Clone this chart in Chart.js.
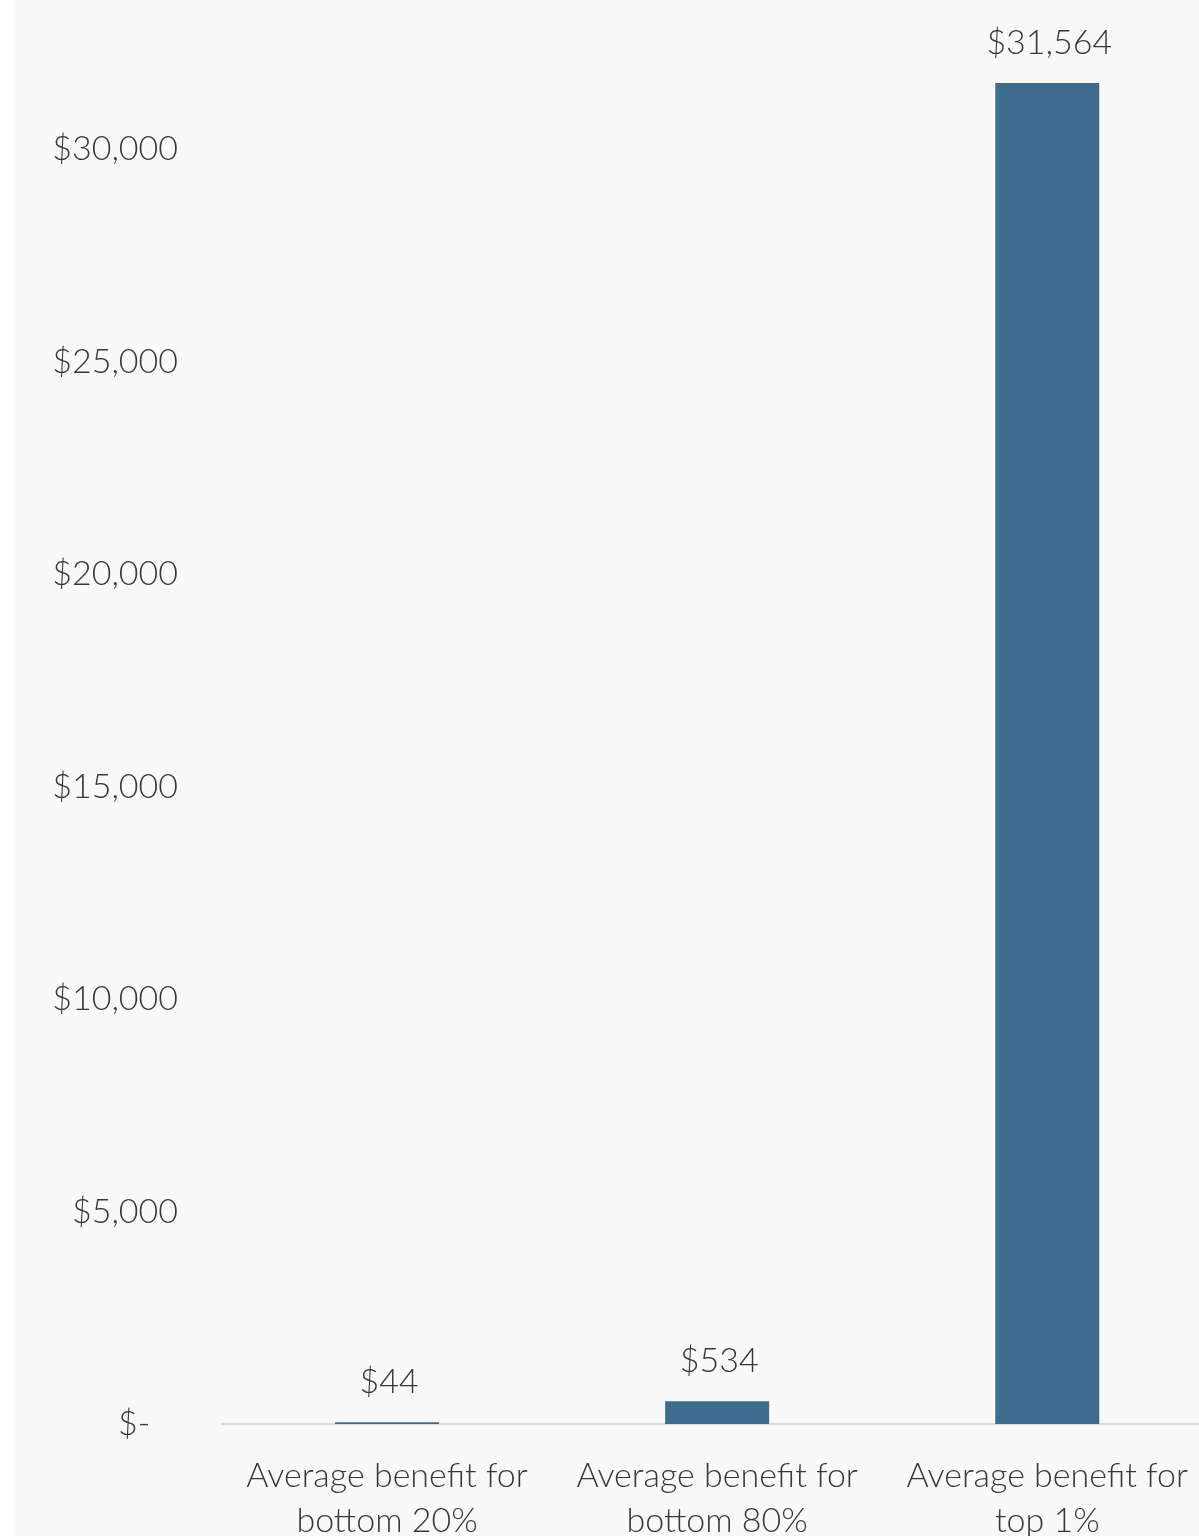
<!DOCTYPE html>
<html>
<head>
<meta charset="utf-8">
<script src="https://cdn.jsdelivr.net/npm/chart.js@4"></script>
<style>
  html, body { margin: 0; padding: 0; background: #ffffff; overflow: hidden; width: 1199px; height: 1536px; }
  #wrap { position: absolute; left: 14px; top: 0; width: 1204px; height: 1536px; background: #f9f9f9; }
  canvas { display: block; }
</style>
</head>
<body>
<div id="wrap"><canvas id="c" width="1204" height="1536" style="width:1204px;height:1536px"></canvas></div>
<script>
const categories = [
  ["Average benefit for", "bottom 20%"],
  ["Average benefit for", "bottom 80%"],
  ["Average benefit for", "top 1%"]
];
const benefitValues = [44, 534, 31564];
const valueLabels = ["$44", "$534", "$31,564"];
const yTickValues = [0, 5000, 10000, 15000, 20000, 25000, 30000];
const yTickLabels = ["$-   ", "$5,000", "$10,000", "$15,000", "$20,000", "$25,000", "$30,000"];

const TEXT = "#383838";
const FONT = "Lato, 'Open Sans', sans-serif";

const dataLabelPlugin = {
  id: 'dataLabels',
  afterDatasetsDraw(chart) {
    const ctx = chart.ctx;
    const meta = chart.getDatasetMeta(0);
    ctx.save();
    ctx.fillStyle = TEXT;
    ctx.font = "300 34px " + FONT;
    ctx.textAlign = 'center';
    ctx.textBaseline = 'middle';
    meta.data.forEach((bar, i) => {
      ctx.fillText(valueLabels[i], bar.x + 2, bar.y - 40);
    });
    ctx.restore();
  }
};

new Chart(document.getElementById('c'), {
  type: 'bar',
  data: {
    labels: categories,
    datasets: [{
      data: benefitValues,
      backgroundColor: '#3d6c8f',
      borderWidth: 0,
      categoryPercentage: 1,
      barPercentage: 0.315
    }]
  },
  options: {
    responsive: false,
    animation: false,
    devicePixelRatio: 1,
    layout: { padding: { top: 19, right: 0, left: 0, bottom: 0 } },
    plugins: { legend: { display: false }, tooltip: { enabled: false } },
    scales: {
      x: {
        grid: { display: false, drawTicks: false },
        border: { display: true, color: '#d9d9d9', width: 2 },
        ticks: { color: TEXT, font: { family: FONT, size: 34, weight: '300', lineHeight: 1.32 }, padding: 30, maxRotation: 0, autoSkip: false },
        afterFit(s) { s.height = 112; }
      },
      y: {
        min: 0,
        max: 32000,
        grid: { display: false, drawTicks: false },
        border: { display: false },
        afterBuildTicks(s) { s.ticks = yTickValues.map(v => ({ value: v })); },
        ticks: {
          color: TEXT,
          font: { family: FONT, size: 34, weight: '300' },
          padding: 44,
          callback(v) { const i = yTickValues.indexOf(v); return i >= 0 ? yTickLabels[i] : ''; }
        },
        afterFit(s) { s.width = 208; }
      }
    }
  },
  plugins: [dataLabelPlugin]
});
</script>
</body>
</html>
